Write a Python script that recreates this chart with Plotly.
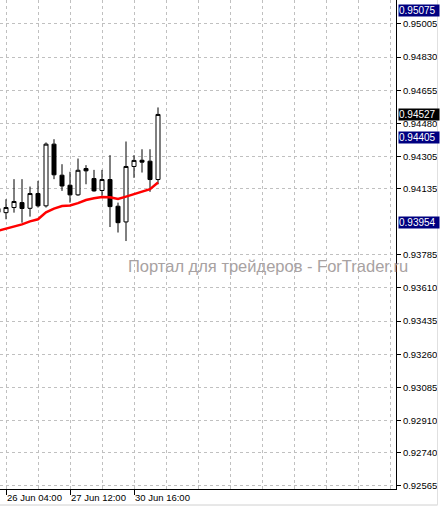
import plotly.graph_objects as go

# ---- data ----
candle_idx = list(range(-1, 20))
opens  = [0.94010, 0.94008, 0.94035, 0.94061, 0.94031, 0.94109, 0.94044, 0.94370, 0.94206, 0.94153,
          0.94102, 0.94241, 0.94188, 0.94125, 0.94183, 0.94042, 0.93959, 0.94252, 0.94285, 0.94280, 0.94183]
highs  = [0.94045, 0.94079, 0.94185, 0.94185, 0.94146, 0.94176, 0.94379, 0.94396, 0.94264, 0.94224,
          0.94294, 0.94259, 0.94234, 0.94234, 0.94312, 0.94061, 0.94384, 0.94312, 0.94343, 0.94343, 0.94564]
lows   = [0.93995, 0.93973, 0.94008, 0.93955, 0.93987, 0.94035, 0.94035, 0.94185, 0.94123, 0.94061,
          0.94097, 0.94158, 0.94119, 0.94097, 0.93932, 0.93903, 0.93858, 0.94192, 0.94220, 0.94118, 0.94158]
closes = [0.94030, 0.94035, 0.94067, 0.94030, 0.94109, 0.94044, 0.94370, 0.94208, 0.94149, 0.94102,
          0.94232, 0.94229, 0.94123, 0.94183, 0.94040, 0.93955, 0.94252, 0.94284, 0.94275, 0.94183, 0.94527]
ma_values = [0.93912, 0.93923, 0.93936, 0.93946, 0.93962, 0.93973, 0.94010, 0.94029, 0.94043, 0.94046,
             0.94058, 0.94075, 0.94084, 0.94091, 0.94089, 0.94080, 0.94093, 0.94105, 0.94119, 0.94132, 0.94167]

level_lines = [0.95075, 0.94405, 0.93954]
current_price = 0.94527

y_ticks = [0.95005, 0.94830, 0.94655, 0.94480, 0.94305, 0.94135, 0.93785,
           0.93610, 0.93435, 0.93260, 0.93085, 0.92910, 0.92740, 0.92565]
x_tick_pos = [0, 8, 16]
x_tick_labels = ["26 Jun 04:00", "27 Jun 12:00", "30 Jun 16:00"]
watermark = "Портал для трейдеров - ForTrader.ru"

FONT = "Liberation Sans"
NAVY = "#000080"
GRID = "#c0c0c0"

fig = go.Figure()

fig.add_trace(go.Scatter(
    x=candle_idx, y=ma_values, mode="lines",
    line=dict(color="#ff0000", width=2.5), showlegend=False, hoverinfo="skip"))

fig.add_trace(go.Candlestick(
    x=candle_idx, open=opens, high=highs, low=lows, close=closes,
    increasing=dict(line=dict(color="black", width=1), fillcolor="white"),
    decreasing=dict(line=dict(color="black", width=1), fillcolor="black"),
    whiskerwidth=0, showlegend=False))

# bid line
fig.add_hline(y=current_price, line=dict(color="#c0c0c0", width=1), layer="below")
# horizontal level lines
for lv in level_lines:
    fig.add_hline(y=lv, line=dict(color=NAVY, width=3), layer="above")

annotations = []
for lv in level_lines:
    annotations.append(dict(
        x=1, xref="paper", xanchor="left", xshift=2, y=lv, yref="y", yanchor="middle",
        text=f"{lv:.5f}", showarrow=False, bgcolor=NAVY, borderpad=0,
        width=40, height=11, align="left",
        font=dict(family=FONT, size=10, color="white")))
annotations.append(dict(
    x=1, xref="paper", xanchor="left", xshift=2, y=current_price, yref="y", yanchor="middle",
    text=f"{current_price:.5f}", showarrow=False, bgcolor="black", borderpad=0,
    width=40, height=11, align="left",
    font=dict(family=FONT, size=10, color="white")))
annotations.append(dict(
    x=126 / 396, xref="paper", xanchor="left", y=1 - 266 / 489, yref="paper", yanchor="middle",
    text=watermark, showarrow=False,
    font=dict(family=FONT, size=16.5, color="#a8a2a2")))

fig.update_layout(
    width=442, height=509,
    margin=dict(l=0, r=46, t=0, b=20),
    paper_bgcolor="white", plot_bgcolor="white",
    showlegend=False,
    boxgap=0.5, boxgroupgap=0,
    annotations=annotations,
    xaxis=dict(
        range=[-0.75, 48.75], rangeslider=dict(visible=False),
        tickvals=x_tick_pos, ticktext=x_tick_labels,
        ticks="outside", ticklen=5, tickcolor="black",
        ticklabelposition="outside right",
        tickfont=dict(family=FONT, size=9.5, color="black"),
        showline=True, linecolor="black", linewidth=1,
        showgrid=False, zeroline=False,
        minor=dict(tick0=0, dtick=4, showgrid=True, gridcolor=GRID,
                   griddash="3px,3px", gridwidth=1, ticklen=0),
    ),
    yaxis=dict(
        side="right", range=[0.925476, 0.951318],
        tickvals=y_ticks, ticktext=[f"{v:.5f}" for v in y_ticks],
        ticks="outside", ticklen=4, tickcolor="black",
        tickfont=dict(family=FONT, size=9.5, color="black"),
        showline=True, linecolor="black", linewidth=1,
        showgrid=True, gridcolor=GRID, griddash="3px,3px", gridwidth=1,
        zeroline=False,
    ),
    shapes=[
        dict(type="line", xref="paper", yref="paper", x0=437.5 / 396, x1=437.5 / 396,
             y0=1, y1=(489 - 505) / 489, line=dict(color="#e0e0e0", width=1)),
        dict(type="line", xref="paper", yref="paper", x0=0, x1=437.5 / 396,
             y0=(489 - 505) / 489, y1=(489 - 505) / 489, line=dict(color="#e0e0e0", width=1)),
    ],
)

fig.write_html("out.html", config={"displayModeBar": False},
               post_script="document.body.style.margin='0';document.body.style.overflow='hidden';")
